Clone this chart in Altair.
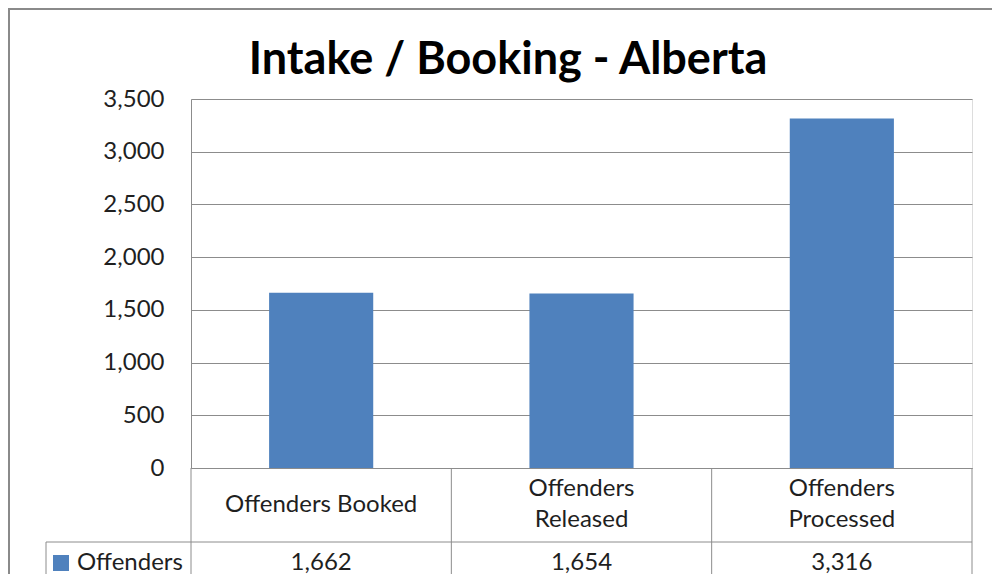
import altair as alt
import pandas as pd

categories = ["Offenders Booked", "Offenders Released", "Offenders Processed"]
header_labels = ["Offenders Booked", "Offenders\nReleased", "Offenders\nProcessed"]
values = [1662, 1654, 3316]
series_name = "Offenders"
y_ticks = [0, 500, 1000, 1500, 2000, 2500, 3000, 3500]
title_text = "Intake / Booking - Alberta"

df = pd.DataFrame({"category": categories, "header": header_labels,
                   "value": values, "series": series_name})
one = pd.DataFrame({"series": [series_name], "title": [title_text]})

W, H = 781, 369
BLUE = "#4F81BD"
GRID = "#8c8c8c"
BORDER = "#8a8a8a"
TEXT = "#1f1f1f"
FONT = "Lato"
FS = 24

xscale = alt.Scale(domain=categories, paddingInner=0, paddingOuter=0)
xaxis = alt.Axis(labels=False, ticks=False, title=None, domain=True,
                 domainColor=GRID, domainWidth=1, grid=False)
xenc = alt.X("category:N", sort=categories, scale=xscale, axis=xaxis)

base = alt.Chart(df)

bars = base.mark_bar(color=BLUE, width={"band": 0.4}).encode(
    x=xenc,
    y=alt.Y("value:Q",
            scale=alt.Scale(domain=[0, 3500], nice=False),
            axis=alt.Axis(values=y_ticks, format=",.0f", title=None,
                          tickSize=0, labelPadding=27, labelFont=FONT,
                          labelFontSize=FS, labelColor=TEXT,
                          domainColor=GRID, gridColor=GRID, grid=True)),
)

# table grid
vlines = base.mark_rule(color=GRID, strokeWidth=1).encode(
    x=alt.X("category:N", sort=categories, scale=xscale, axis=xaxis, bandPosition=0),
    y=alt.value(H), y2=alt.value(H + 200))
right_line = alt.Chart(one).mark_rule(color=GRID, strokeWidth=1).encode(
    x=alt.value(W), y=alt.value(H), y2=alt.value(H + 200))
legend_left = alt.Chart(one).mark_rule(color=GRID, strokeWidth=1).encode(
    x=alt.value(-145), y=alt.value(443), y2=alt.value(H + 200))
row_line = alt.Chart(one).mark_rule(color=GRID, strokeWidth=1).encode(
    x=alt.value(-145), x2=alt.value(W), y=alt.value(443))

header_single = base.transform_filter(
    "indexof(datum.header, '\\n') < 0"
).mark_text(font=FONT, fontSize=FS, color=TEXT, baseline="middle").encode(
    x=xenc, y=alt.value(406), text="header:N")
header_multi = base.transform_filter(
    "indexof(datum.header, '\\n') >= 0"
).mark_text(font=FONT, fontSize=FS, color=TEXT, baseline="middle",
            lineBreak="\n", lineHeight=31).encode(
    x=xenc, y=alt.value(390), text="header:N")
vals = base.mark_text(font=FONT, fontSize=FS, color=TEXT, baseline="middle").encode(
    x=xenc, y=alt.value(464), text=alt.Text("value:Q", format=",.0f"))

leg_sym = alt.Chart(one).mark_square(size=256, color=BLUE, opacity=1).encode(
    x=alt.value(-130), y=alt.value(464))
leg_txt = alt.Chart(one).mark_text(font=FONT, fontSize=FS, color=TEXT,
                                   align="left", baseline="middle").encode(
    x=alt.value(-114), y=alt.value(464), text="series:N")

title = alt.Chart(one).mark_text(font=FONT, fontSize=45, fontWeight="bold",
                                 color="#000000", align="center",
                                 baseline="alphabetic").encode(
    x=alt.value(317), y=alt.value(-25), text="title:N")

# outer chart border
border_left = alt.Chart(one).mark_rule(color=BORDER, strokeWidth=2).encode(
    x=alt.value(-182), y=alt.value(-91), y2=alt.value(H + 200))
border_top = alt.Chart(one).mark_rule(color=BORDER, strokeWidth=2).encode(
    x=alt.value(-183), x2=alt.value(W + 60), y=alt.value(-90))

chart = alt.layer(
    bars, vlines, right_line, legend_left, row_line, header_single, header_multi,
    vals, leg_sym, leg_txt, title, border_left, border_top
).properties(
    width=W, height=H,
    autosize=alt.AutoSizeParams(type="none"),
    padding={"left": 183, "top": 91, "right": 20, "bottom": 106},
).configure_view(stroke=None).configure(background="white")

chart.save("out.html", embed_options={"renderer": "svg", "actions": False})
